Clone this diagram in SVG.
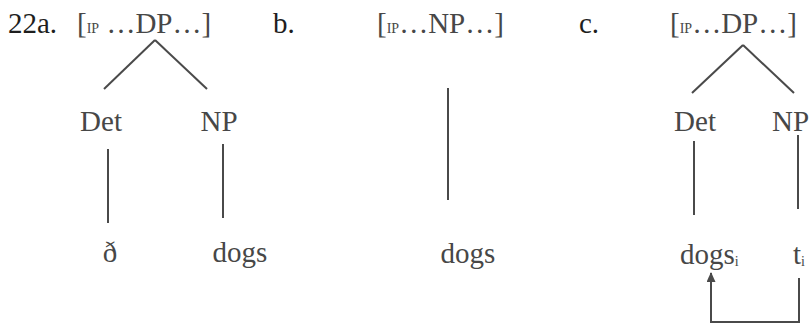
<svg xmlns="http://www.w3.org/2000/svg" width="810" height="325" viewBox="0 0 810 325">
<defs>
<style>
text{font-family:'Liberation Serif','DejaVu Serif',serif;font-size:29px;fill:#474747}
.lab{fill:#1e1e1e}
.sub{font-size:14px}
.mid{text-anchor:middle}
line,polyline{stroke:#4a4a4a;stroke-width:2;fill:none}
</style>
<marker id="ah" viewBox="0 0 10 10" refX="9" refY="5" markerWidth="5" markerHeight="4.5" orient="auto" markerUnits="strokeWidth" preserveAspectRatio="none"><path d="M0,0 L10,5 L0,10 z" fill="#4a4a4a"/></marker>
</defs>
<g id="labels">
<text class="lab" x="8" y="33">22a.</text>
<text class="lab" x="273" y="33">b.</text>
<text class="lab" x="579" y="33">c.</text>
</g>
<g id="a-DP"><text x="77" y="33">[<tspan class="sub">IP</tspan> …DP…]</text></g>
<g id="a-Det"><text class="mid" x="101" y="131">Det</text></g>
<g id="a-NP"><text class="mid" x="219" y="131">NP</text></g>
<g id="a-eth"><text class="mid" x="110" y="262">ð</text></g>
<g id="a-dogs"><text class="mid" x="240" y="262">dogs</text></g>
<g id="b-NP"><text x="377" y="33">[<tspan class="sub">IP</tspan>…NP…]</text></g>
<g id="b-dogs"><text class="mid" x="468" y="263">dogs</text></g>
<g id="c-DP"><text x="670" y="33">[<tspan class="sub">IP</tspan>…DP…]</text></g>
<g id="c-Det"><text class="mid" x="695" y="131">Det</text></g>
<g id="c-NP"><text x="772" y="131">NP</text></g>
<g id="c-dogs"><text x="680" y="264">dogs<tspan class="sub" dy="2">i</tspan></text></g>
<g id="c-t"><text x="793" y="264">t<tspan class="sub" dy="2">i</tspan></text></g>
<g id="connectors">
<line x1="155" y1="40" x2="104" y2="89"/>
<line x1="155" y1="40" x2="207" y2="89"/>
<line x1="108" y1="149" x2="108" y2="223"/>
<line x1="223" y1="144" x2="223" y2="218"/>
<line x1="448" y1="88" x2="448" y2="200"/>
<line x1="743" y1="45" x2="692" y2="93"/>
<line x1="743" y1="45" x2="794" y2="93"/>
<line x1="694" y1="141" x2="694" y2="215"/>
<line x1="798" y1="135" x2="798" y2="209"/>
<polyline points="799,278 799,322 711,322 711,273" marker-end="url(#ah)"/>
</g>
</svg>
